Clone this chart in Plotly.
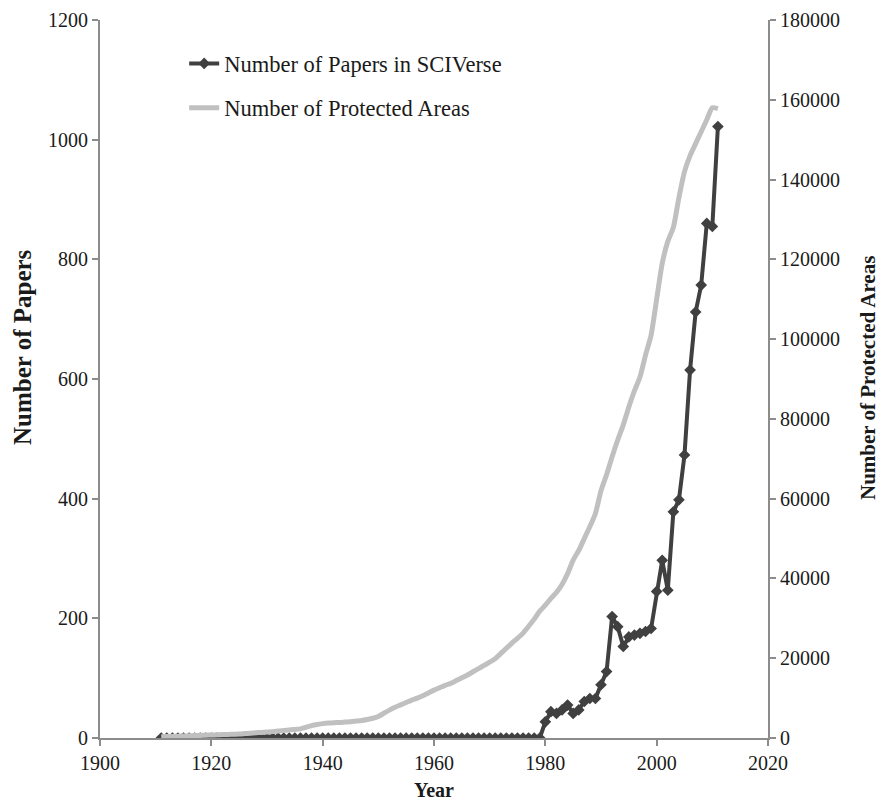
import plotly.graph_objects as go

years_papers = list(range(1911, 2012))
papers = [0] * (1980 - 1911) + [
    27, 44, 41, 47, 55, 41, 47, 61, 66, 66,      # 1980-1989
    89, 111, 203, 186, 153, 169, 172, 175, 178, 183,  # 1990-1999
    245, 297, 247, 378, 398, 473, 615, 712, 757, 860,  # 2000-2009
    855, 1022,  # 2010-2011
]

years_pa = list(range(1911, 2012))
protected = [
    300, 350, 400, 450, 500, 550, 600, 650, 700, 750,            # 1911-1920
    800, 850, 900, 950, 1000, 1100, 1200, 1300, 1400, 1500,      # 1921-1930
    1600, 1750, 1900, 2000, 2150, 2300, 2700, 3100, 3400, 3600,  # 1931-1940
    3750, 3850, 3900, 4000, 4100, 4250, 4400, 4650, 4950, 5400,  # 1941-1950
    6200, 7000, 7700, 8300, 8900, 9500, 10000, 10600, 11300, 12000,  # 1951-1960
    12600, 13200, 13700, 14400, 15100, 15800, 16600, 17400, 18200, 19000,  # 1961-1970
    19900, 21200, 22500, 23800, 25000, 26300, 28000, 29800, 31800, 33300,  # 1971-1980
    35000, 36500, 38500, 41200, 44600, 47000, 50000, 53000, 56300, 62000,  # 1981-1990
    66000, 70500, 74700, 78500, 83000, 87000, 90500, 96000, 101000, 110000,  # 1991-2000
    119000, 124500, 128000, 135500, 142000, 146000, 149000, 152000, 155000, 158000,  # 2001-2010
    157800,  # 2011
]

FONT = "Liberation Serif"
AX = "#8c8c8c"
TXT = "#1a1a1a"

fig = go.Figure()
fig.add_trace(go.Scatter(
    x=years_papers, y=papers, name="Number of Papers in SCIVerse",
    mode="lines+markers",
    line=dict(color="#404040", width=4),
    marker=dict(symbol="diamond", size=9, color="#404040"),
    legendgroup="a", legendrank=1, yaxis="y",
))
fig.add_trace(go.Scatter(
    x=years_pa, y=protected, name="Number of Protected Areas",
    mode="lines",
    line=dict(color="#c0c0c0", width=5, shape="spline", smoothing=0.6),
    legendgroup="b", legendrank=2, yaxis="y2",
))

axis_common = dict(
    showgrid=False, zeroline=False, showline=True, linecolor=AX, linewidth=2,
    ticks="outside", tickcolor=AX, ticklen=6, tickwidth=2, automargin=False,
    tickfont=dict(family=FONT, size=20, color=TXT),
)

fig.update_layout(
    width=885, height=805,
    margin=dict(l=92, r=125, t=12, b=75, autoexpand=False),
    paper_bgcolor="white", plot_bgcolor="white",
    font=dict(family=FONT, color=TXT),
    showlegend=True,
    legend=dict(
        x=0.126, y=0.969, xanchor="left", yanchor="top",
        font=dict(family=FONT, size=22.5, color=TXT),
        bgcolor="rgba(0,0,0,0)", traceorder="grouped", tracegroupgap=12,
        itemwidth=30,
    ),
    xaxis=dict(range=[1900, 2020], dtick=20, tick0=1900, **axis_common),
    yaxis=dict(range=[0, 1200], dtick=200, **axis_common),
    yaxis2=dict(range=[0, 180000], dtick=20000, overlaying="y", side="right",
                tickformat="d", **axis_common),
    annotations=[
        dict(text="<b>Year</b>", showarrow=False,
             xref="paper", yref="paper", x=0.5, y=0,
             yshift=-52, xanchor="center", yanchor="middle",
             font=dict(family=FONT, size=20, color=TXT)),
        dict(text="<b>Number of Papers</b>", textangle=-90, showarrow=False,
             xref="paper", yref="paper", x=0, y=(738 - 347) / 718,
             xshift=-78, xanchor="center", yanchor="middle",
             font=dict(family=FONT, size=25, color=TXT)),
        dict(text="<b>Number of Protected Areas</b>", textangle=-90, showarrow=False,
             xref="paper", yref="paper", x=1, y=(738 - 378) / 718,
             xshift=100, xanchor="center", yanchor="middle",
             font=dict(family=FONT, size=21, color=TXT)),
    ],
)

fig.write_html("out.html")
